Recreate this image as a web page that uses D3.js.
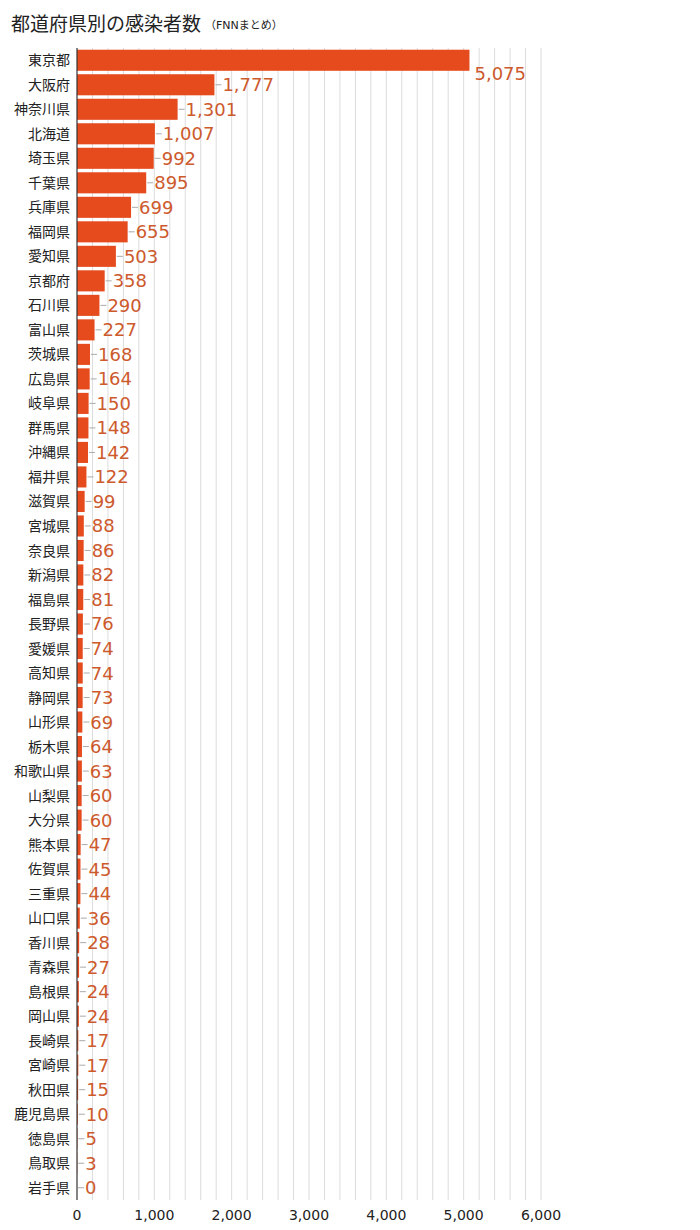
<!DOCTYPE html>
<html><head><meta charset="utf-8">
<script src="https://cdn.jsdelivr.net/npm/d3@7"></script>
<style>body{margin:0;background:#fff;}svg{display:block;}</style>
</head><body>
<svg id="c" width="700" height="1230"></svg>
<script>
const prefectures = ["東京都","大阪府","神奈川県","北海道","埼玉県","千葉県","兵庫県","福岡県","愛知県","京都府","石川県","富山県","茨城県","広島県","岐阜県","群馬県","沖縄県","福井県","滋賀県","宮城県","奈良県","新潟県","福島県","長野県","愛媛県","高知県","静岡県","山形県","栃木県","和歌山県","山梨県","大分県","熊本県","佐賀県","三重県","山口県","香川県","青森県","島根県","岡山県","長崎県","宮崎県","秋田県","鹿児島県","徳島県","鳥取県","岩手県"];
const cases = [5075,1777,1301,1007,992,895,699,655,503,358,290,227,168,164,150,148,142,122,99,88,86,82,81,76,74,74,73,69,64,63,60,60,47,45,44,36,28,27,24,24,17,17,15,10,5,3,0];
const xTicks = [0,1000,2000,3000,4000,5000,6000];
const gridStep = 200;
const titleText = "都道府県別の感染者数";
const subText = "（FNNまとめ）";

const FONT = "'DejaVu Sans','Noto Sans CJK JP',sans-serif";
const svg = d3.select("#c");
const mLeft = 77, mRight = 541, mTop = 48, mBottom = 1200;
const data = prefectures.map((p,i)=>({name:p, value:cases[i], idx:i}));
const x = d3.scaleLinear().domain([0,6000]).range([mLeft,mRight]);
const y = d3.scaleBand().domain(prefectures).range([mTop,mBottom]).paddingInner(0.14).paddingOuter(0.07);
const cy = d => y(d.name)+y.bandwidth()/2;

// title
const t = svg.append("text").attr("x",11).attr("y",31).attr("font-family",FONT).attr("fill","#222");
t.append("tspan").attr("font-size",19).text(titleText);
t.append("tspan").attr("font-size",11).attr("dx",4).attr("dy",-2).text(subText);

// grid
const grid = d3.range(gridStep, 6000+1, gridStep);
svg.append("g").selectAll("line").data(grid).join("line")
  .attr("x1",d=>x(d)).attr("x2",d=>x(d)).attr("y1",mTop).attr("y2",mBottom)
  .attr("stroke","#dcdcdc").attr("stroke-width",1);

// bars
svg.append("g").selectAll("rect").data(data).join("rect")
  .attr("x",x(0)).attr("y",d=>y(d.name))
  .attr("width",d=>x(d.value)-x(0)).attr("height",y.bandwidth())
  .attr("fill","#e54b1d");

// leader lines
svg.append("g").selectAll("line").data(data.filter(d=>d.idx>0)).join("line")
  .attr("x1",d=>x(d.value)+1).attr("x2",d=>x(d.value)+7)
  .attr("y1",cy).attr("y2",cy)
  .attr("stroke","#aaa").attr("stroke-width",1);

// value labels
const fmt = d3.format(",");
svg.append("g").selectAll("text").data(data).join("text")
  .attr("x",d=> d.idx===0 ? x(d.value)+5 : x(d.value)+8)
  .attr("y",d=>cy(d) + (d.idx===0?13:0))
  .attr("dy","0.36em")
  .attr("font-family",FONT).attr("font-size",18).attr("fill","#cd5a2d")
  .text(d=>fmt(d.value));

// category labels
svg.append("g").selectAll("text").data(data).join("text")
  .attr("x",mLeft-7).attr("y",cy).attr("dy","0.36em")
  .attr("text-anchor","end").attr("font-family",FONT).attr("font-size",14).attr("fill","#222")
  .text(d=>d.name);

// axis line
svg.append("line").attr("x1",mLeft).attr("x2",mLeft).attr("y1",mTop).attr("y2",mBottom)
  .attr("stroke","#333").attr("stroke-width",1.2);

// x tick labels
svg.append("g").selectAll("text").data(xTicks).join("text")
  .attr("x",d=>x(d)).attr("y",1220).attr("text-anchor","middle")
  .attr("font-family",FONT).attr("font-size",14).attr("fill","#222")
  .text(d=>fmt(d));
</script>
</body></html>
